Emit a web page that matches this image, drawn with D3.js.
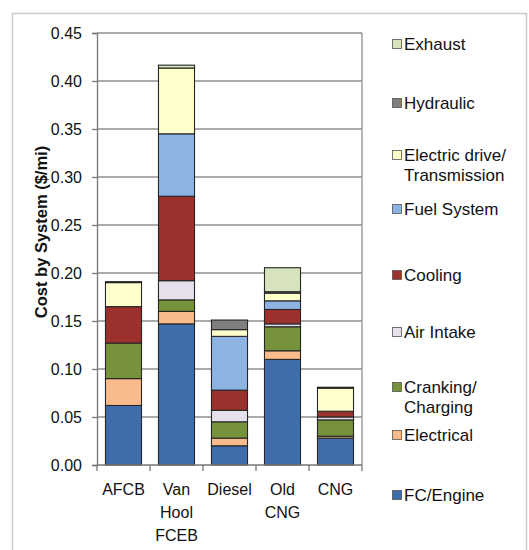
<!DOCTYPE html>
<html><head><meta charset="utf-8">
<script src="https://cdn.jsdelivr.net/npm/d3@7"></script>
<style>html,body{margin:0;padding:0;background:#fff;}svg{display:block;font-family:"Liberation Sans",Arial,sans-serif;}</style>
</head><body>
<svg id="chart" width="529" height="550"></svg>
<script>
// ---- data ----
const categories = [["AFCB"], ["Van", "Hool", "FCEB"], ["Diesel"], ["Old", "CNG"], ["CNG"]];
const seriesNames = ["FC/Engine", "Electrical", "Cranking/Charging", "Air Intake", "Cooling", "Fuel System", "Electric drive/Transmission", "Hydraulic", "Exhaust"];
const legendLabels = [["FC/Engine"], ["Electrical"], ["Cranking/", "Charging"], ["Air Intake"], ["Cooling"], ["Fuel System"], ["Electric drive/", "Transmission"], ["Hydraulic"], ["Exhaust"]];
const fcEngine      = [0.062, 0.147, 0.020, 0.110, 0.028];
const electrical    = [0.028, 0.013, 0.008, 0.009, 0.002];
const cranking      = [0.037, 0.012, 0.017, 0.025, 0.017];
const airIntake     = [0.000, 0.020, 0.012, 0.003, 0.003];
const cooling       = [0.038, 0.088, 0.021, 0.015, 0.006];
const fuelSystem    = [0.000, 0.065, 0.056, 0.009, 0.000];
const electricDrive = [0.025, 0.0685, 0.007, 0.008, 0.024];
const hydraulic     = [0.001, 0.000, 0.010, 0.0015, 0.001];
const exhaust       = [0.000, 0.003, 0.000, 0.025, 0.000];
const yTicks = [0.00, 0.05, 0.10, 0.15, 0.20, 0.25, 0.30, 0.35, 0.40, 0.45];
const yTitle = "Cost by System ($/mi)";

// ---- style / layout ----
const colors = ["#3f6dac", "#f9bb8c", "#76923b", "#e5e0ec", "#9c302d", "#8db3e2", "#ffffcc", "#7f7f7f", "#d6e3bc"];
const legendRowY = [495, 435, 387, 332, 275, 209, 155, 103, 44];

const svg = d3.select("#chart");
const M = {left: 97, right: 362, top: 33, bottom: 465};

// outer frame
svg.append("rect").attr("x", 12.5).attr("y", 13.5).attr("width", 514).attr("height", 545)
  .attr("fill", "none").attr("stroke", "#c9c9c9").attr("stroke-width", 1.5);

const series = [fcEngine, electrical, cranking, airIntake, cooling, fuelSystem, electricDrive, hydraulic, exhaust];
const rows = categories.map((c, i) => {
  const o = {idx: i};
  seriesNames.forEach((s, j) => o[s] = series[j][i]);
  return o;
});
const stacked = d3.stack().keys(seriesNames)(rows);

const x = d3.scaleBand().domain(d3.range(categories.length)).range([M.left, M.right])
  .paddingInner(0.32).paddingOuter(0.16);
const y = d3.scaleLinear().domain([0, 0.45]).range([M.bottom, M.top]);

// gridlines
svg.append("g").selectAll("line").data(yTicks.slice(1)).join("line")
  .attr("x1", M.left).attr("x2", M.right)
  .attr("y1", d => y(d)).attr("y2", d => y(d))
  .attr("stroke", "#8f8f8f").attr("stroke-width", 1.3);
// right border
svg.append("line").attr("x1", M.right).attr("x2", M.right).attr("y1", M.top).attr("y2", M.bottom)
  .attr("stroke", "#8f8f8f").attr("stroke-width", 1.3);

// bars
stacked.forEach((layer, j) => {
  svg.append("g").selectAll("rect").data(layer.filter(d => d[1] - d[0] > 0)).join("rect")
    .attr("x", d => x(d.data.idx))
    .attr("width", x.bandwidth())
    .attr("y", d => y(d[1]))
    .attr("height", d => y(d[0]) - y(d[1]))
    .attr("fill", colors[j])
    .attr("stroke", "#262626").attr("stroke-width", 1.1);
});

// y axis
const yAxis = svg.append("g").attr("transform", `translate(${M.left},0)`)
  .call(d3.axisLeft(y).tickValues(yTicks).tickFormat(d3.format(".2f")).tickSize(5).tickPadding(10));
yAxis.select(".domain").attr("stroke", "#777").attr("stroke-width", 1.3);
yAxis.selectAll(".tick line").attr("stroke", "#777").attr("stroke-width", 1.3);
yAxis.selectAll("text").attr("font-size", 16).attr("fill", "#111")
  .attr("font-family", "'Liberation Sans', Arial, sans-serif");

// x axis (ticks at band boundaries)
const boundaries = d3.range(categories.length + 1).map(i => M.left + i * x.step());
svg.append("line").attr("x1", M.left).attr("x2", M.right).attr("y1", M.bottom).attr("y2", M.bottom)
  .attr("stroke", "#777").attr("stroke-width", 1.3);
svg.append("g").selectAll("line").data(boundaries).join("line")
  .attr("x1", d => d).attr("x2", d => d).attr("y1", M.bottom).attr("y2", M.bottom + 6)
  .attr("stroke", "#777").attr("stroke-width", 1.3);
const xl = svg.append("g").selectAll("text").data(categories).join("text")
  .attr("x", (d, i) => x(i) + x.bandwidth() / 2)
  .attr("y", 495).attr("text-anchor", "middle").attr("font-size", 16).attr("fill", "#111");
xl.each(function(lines, i) {
  d3.select(this).selectAll("tspan").data(lines).join("tspan")
    .attr("x", x(i) + x.bandwidth() / 2).attr("dy", (d, k) => k === 0 ? 0 : 23).text(d => d);
});

// y title
svg.append("text").attr("transform", "translate(47,232) rotate(-90)")
  .attr("text-anchor", "middle").attr("font-size", 16.5).attr("font-weight", "bold")
  .attr("fill", "#111").text(yTitle);

// legend
const lg = svg.append("g");
legendLabels.forEach((lines, j) => {
  const cy = legendRowY[j];
  lg.append("rect").attr("x", 392.5).attr("y", cy - 4.5).attr("width", 9).attr("height", 9)
    .attr("fill", colors[j]).attr("stroke", "#555").attr("stroke-width", 0.8);
  const t = lg.append("text").attr("x", 404).attr("y", cy + 6).attr("font-size", 17).attr("fill", "#111");
  t.selectAll("tspan").data(lines).join("tspan").attr("x", 404)
    .attr("dy", (d, k) => k === 0 ? 0 : 19.5).text(d => d);
});
</script>
</body></html>
